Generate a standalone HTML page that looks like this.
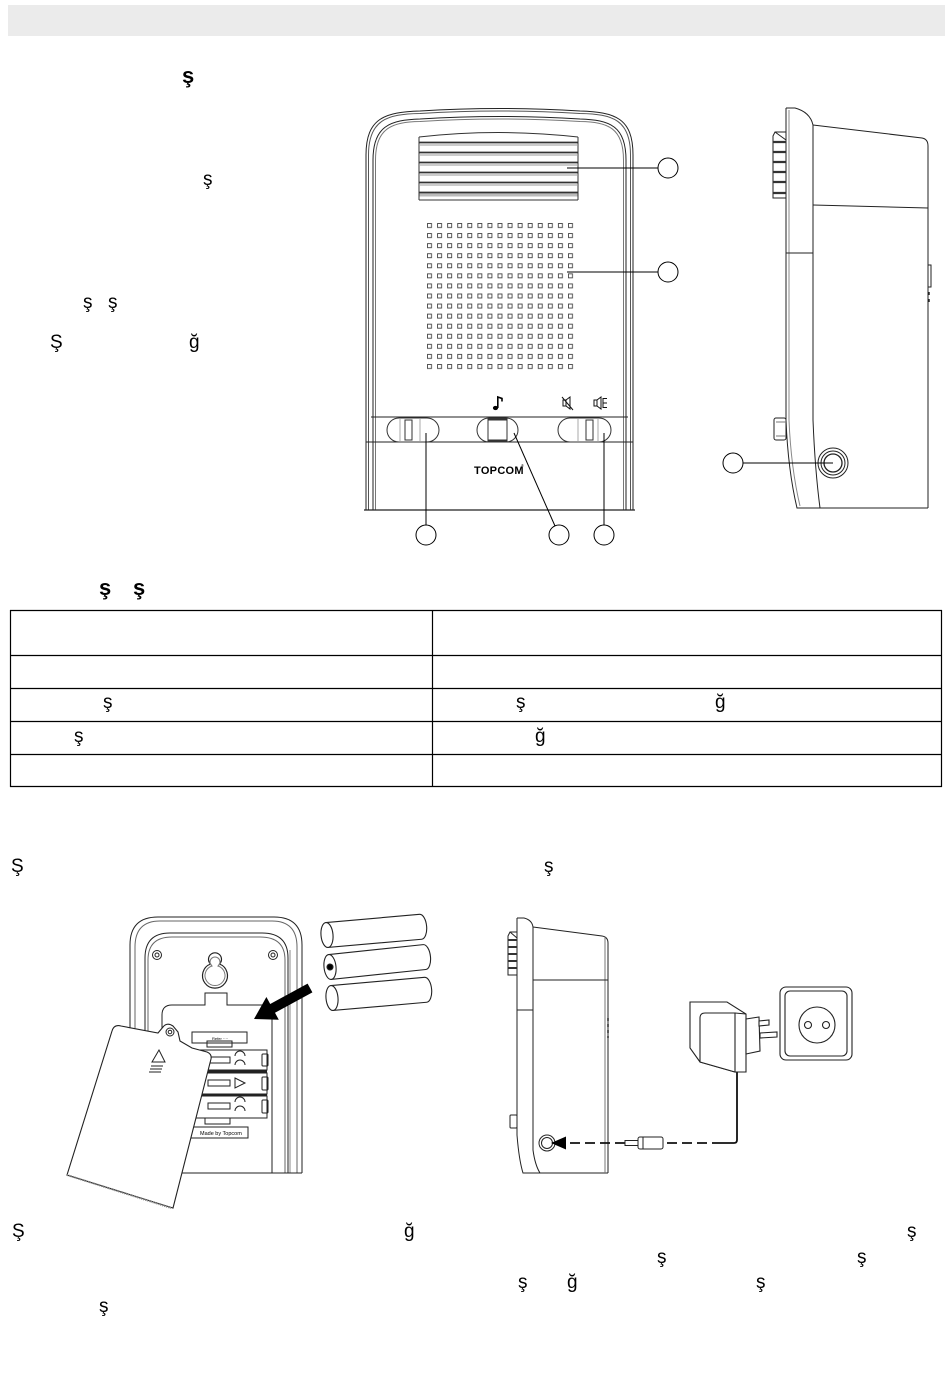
<!DOCTYPE html>
<html>
<head>
<meta charset="utf-8">
<style>
html,body{margin:0;padding:0;background:#fff;}
svg{display:block}
text{font-family:"Liberation Sans",Arial,sans-serif;fill:#000}
.t{font-size:19px}
.b{font-size:22px;font-weight:bold}
</style>
</head>
<body>
<svg width="950" height="1397" viewBox="0 0 950 1397" xmlns="http://www.w3.org/2000/svg">
<defs>
  <pattern id="grid" x="427" y="223" width="10.07" height="10.07" patternUnits="userSpaceOnUse">
    <rect x="0.5" y="0.5" width="4" height="4" fill="none" stroke="#444" stroke-width="0.9"/>
  </pattern>
</defs>

<!-- header bar -->
<rect x="8" y="5" width="937" height="31" fill="#ebebeb"/>

<!-- scattered text -->
<text class="b" x="182" y="83">ş</text>
<text class="t" x="203" y="185">ş</text>
<text class="t" x="83" y="308">ş</text>
<text class="t" x="108" y="308">ş</text>
<text class="t" x="50" y="348">Ş</text>
<text class="t" x="189" y="348">ğ</text>

<!-- ============ FRONT DEVICE ============ -->
<g fill="none" stroke="#222" stroke-width="1">
  <path d="M366,510 L366,155 C366,118 385,112 420,111 Q500,106 580,111 C615,112 633,118 633,155 L633,510"/>
  <path d="M368.5,510 L368.5,155 C368.5,120 387,114 420,113.5 Q500,108.5 580,113.5 C613,114 630.5,120 630.5,155 L630.5,510" stroke="#555"/>
  <path d="M373,510 L373,160 C373,126 390,120 420,119 Q500,114 580,119 C610,120 626,126 626,160 L626,510"/>
  <path d="M375.5,510 L375.5,160 C375.5,128 392,122 420,121.5 Q500,116.5 580,121.5 C608,122 623.5,128 623.5,160 L623.5,510" stroke="#777"/>
  <path d="M364,510 L635,510" stroke-width="1.3"/>
  <path d="M371,417 L628,417"/>
  <path d="M366,442 L633,442"/>
</g>

<!-- top grille -->
<g fill="none" stroke="#333">
  <path d="M419,137 Q498,128 578,137" stroke-width="1"/>
  <path d="M419,137 L419,200 M578,137 L578,200 M419,200 L578,200" stroke-width="1"/>
  <g stroke-width="1.8">
    <path d="M419,142.5 L578,142.5"/>
    <path d="M419,152.5 L578,152.5"/>
    <path d="M419,162.5 L578,162.5"/>
    <path d="M419,172.5 L578,172.5"/>
    <path d="M419,182.5 L578,182.5"/>
    <path d="M419,192.5 L578,192.5"/>
  </g>
  <g stroke="#999" stroke-width="1">
    <path d="M419,145 L578,145"/>
    <path d="M419,155 L578,155"/>
    <path d="M419,165 L578,165"/>
    <path d="M419,175 L578,175"/>
    <path d="M419,185 L578,185"/>
  </g>
</g>
<rect x="419.5" y="193.5" width="158" height="3" fill="#bbb"/>

<!-- speaker grid -->
<rect x="427" y="223" width="151" height="151" fill="url(#grid)"/>

<!-- buttons -->
<g fill="none" stroke="#333" stroke-width="1">
  <rect x="387" y="418" width="52" height="24" rx="12"/>
  <rect x="405" y="420" width="7" height="20"/>
  <path d="M400,419 L400,441 M420,419 L420,441" stroke="#aaa"/>
  <rect x="477" y="418" width="41" height="24" rx="12"/>
  <rect x="488" y="419" width="19" height="22"/>
  <path d="M488,419.5 L507,419.5 M488,440.5 L507,440.5" stroke-width="2"/>
  <rect x="558" y="418" width="53" height="24" rx="12"/>
  <rect x="586" y="420" width="7" height="20"/>
  <path d="M578,419 L578,441 M598,419 L598,441" stroke="#aaa"/>
</g>

<!-- icons -->
<ellipse cx="495.5" cy="408" rx="2.6" ry="2.1" fill="#000"/>
<path d="M497.8,408 L497.8,397 L502,398.5 L502,401.5" stroke="#000" stroke-width="1.6" fill="none"/>
<g fill="none" stroke="#111" stroke-width="1">
  <rect x="563" y="400" width="3" height="6"/>
  <path d="M566,400 L570,397 L570,409 L566,406"/>
  <path d="M562,397 L573,410"/>
  <rect x="594" y="400" width="3" height="6"/>
  <path d="M597,400 L601,397 L601,409 L597,406"/>
  <path d="M603,398.5 L607,398.5 M603,403 L607,403 M603,407.5 L607,407.5 M603,398 L603,408"/>
</g>

<!-- TOPCOM -->
<text x="474" y="474" style="font-size:11px;font-weight:bold;letter-spacing:0.3px">TOPCOM</text>
<text x="521" y="467" style="font-size:4px">®</text>

<!-- callouts front -->
<g fill="none" stroke="#000" stroke-width="1">
  <path d="M567,168 L658,168"/>
  <path d="M567,272 L658,272"/>
  <path d="M426,433 L426,525"/>
  <path d="M514,433 L555,526"/>
  <path d="M604,433 L604,525"/>
</g>
<g fill="#fff" stroke="#000" stroke-width="1">
  <circle cx="668" cy="168" r="10"/>
  <circle cx="668" cy="272" r="10"/>
  <circle cx="426" cy="535" r="10"/>
  <circle cx="559" cy="535" r="10"/>
  <circle cx="604" cy="535" r="10"/>
</g>

<!-- ============ SIDE DEVICE ============ -->
<g fill="none" stroke="#222" stroke-width="1">
  <path d="M786,108 L786,420 Q788,470 797,508 L928,508"/>
  <path d="M789,110 L789,420 Q791,468 800,506" stroke="#888"/>
  <path d="M786,108 L795,108 Q810,112 813,125"/>
  <path d="M813,125 L813,420 Q815,470 820,508"/>
  <path d="M813,125 L922,138 Q928,139 928,146 L928,508"/>
  <path d="M813,205 L928,208"/>
  <path d="M786,253 L813,253"/>
  <path d="M928,265 L931,265 L931,287 L928,287"/>
  <path d="M929,292 L929,295 M929,299 L929,302" stroke-width="1.5"/>
  <!-- grille -->
  <path d="M786,132 L775,132 L773,136 L773,198 L786,198"/>
  <path d="M775,132 L786,140"/>
  <!-- small button -->
  <rect x="774" y="418" width="12" height="22" rx="2"/>
  <path d="M776,422 L786,422 M776,436 L786,436" stroke="#777"/>
  <!-- jack -->
  <circle cx="833" cy="463" r="15"/>
  <circle cx="833" cy="463" r="12"/>
  <circle cx="833" cy="463" r="9" stroke-width="1.3"/>
  <path d="M743,463 L833,463" stroke="#000"/>
</g>
<g stroke="#333" stroke-width="2.2">
  <path d="M773,142 L786,142 M773,152 L786,152 M773,162 L786,162 M773,172 L786,172 M773,182 L786,182 M773,193 L786,193"/>
</g>
<circle cx="733" cy="463" r="10" fill="#fff" stroke="#000" stroke-width="1"/>

<!-- ============ SECTION 2 ============ -->
<text class="b" x="99" y="595">ş</text>
<text class="b" x="133" y="595">ş</text>

<g stroke="#000" stroke-width="1.2" fill="none">
  <path d="M10,610.5 L942,610.5"/>
  <path d="M10,655.5 L942,655.5"/>
  <path d="M10,688.5 L942,688.5"/>
  <path d="M10,721.5 L942,721.5"/>
  <path d="M10,754.5 L942,754.5"/>
  <path d="M10,786.5 L942,786.5"/>
  <path d="M10.5,610 L10.5,787"/>
  <path d="M432.5,610 L432.5,787"/>
  <path d="M941.5,610 L941.5,787"/>
</g>
<text class="t" x="103" y="708">ş</text>
<text class="t" x="516" y="708">ş</text>
<text class="t" x="715" y="708">ğ</text>
<text class="t" x="74" y="742">ş</text>
<text class="t" x="535" y="742">ğ</text>

<text class="t" x="11" y="872">Ş</text>
<text class="t" x="544" y="872">ş</text>

<!-- ============ BATTERY FIGURE ============ -->
<g fill="none" stroke="#222" stroke-width="1">
  <path d="M130,1173 L130,945 Q130,917 158,917 L274,917 Q302,917 302,945 L302,1173"/>
  <path d="M135,1173 L135,947 Q135,921 160,921 L272,921 Q297,921 297,947 L297,1173" stroke="#666"/>
  <path d="M145,1173 L145,958 Q145,933 170,933 L262,933 Q288,933 288,958 L288,1173"/>
  <path d="M148,1173 L148,960 Q148,937 172,937 L260,937 Q285,937 285,960 L285,1173" stroke="#666"/>
  <path d="M290,950 L290,1173" stroke="#888"/>
  <path d="M130,1173 L302,1173"/>
  <!-- screws -->
  <circle cx="157" cy="955" r="4.5"/>
  <circle cx="157" cy="955" r="2"/>
  <circle cx="273" cy="955" r="4.5"/>
  <circle cx="273" cy="955" r="2"/>
  <!-- keyhole -->
  <path d="M210.5,964 A6.5,6.5 0 1 1 219.5,964 A12.5,12.5 0 1 1 210.5,964 Z" stroke-width="1.2"/>
  <path d="M212,966 A5,5 0 1 1 218,966 A10,10 0 1 1 212,966 Z" stroke="#777"/>
  <!-- compartment -->
  <path d="M162,1140 L162,1015 Q162,1005 172,1005 L205,1005 L205,993 L227,993 L227,1005 L262,1005 Q272,1005 272,1015 L272,1173"/>
  <!-- label -->
  <rect x="192" y="1032" width="55" height="11"/>
  <!-- cells -->
  <rect x="193" y="1050" width="74" height="20"/>
  <rect x="193" y="1073" width="74" height="21"/>
  <rect x="193" y="1096" width="74" height="22"/>
  <path d="M193,1071.5 L267,1071.5 M193,1095 L267,1095" stroke-width="2"/>
  <rect x="262" y="1054" width="6" height="12" rx="1"/>
  <rect x="262" y="1077" width="6" height="13" rx="1"/>
  <rect x="262" y="1100" width="6" height="13" rx="1"/>
  <rect x="208" y="1057" width="22" height="6"/>
  <rect x="208" y="1080" width="22" height="6"/>
  <rect x="208" y="1103" width="22" height="6"/>
  <path d="M235,1056 A5,5 0 0 1 245,1056 M235,1065 A5,5 0 0 1 245,1065"/>
  <path d="M235,1078 L245,1083 L235,1088 Z"/>
  <path d="M235,1102 A5,5 0 0 1 245,1102 M235,1111 A5,5 0 0 1 245,1111"/>
  <rect x="205" y="1118" width="25" height="6"/>
  <rect x="190" y="1127" width="58" height="11"/>
  <rect x="207" y="1041" width="25" height="6"/>
</g>
<text x="200" y="1135" style="font-size:5.5px">Made by Topcom</text>
<text x="212" y="1040" style="font-size:4px">Refer ····</text>

<!-- arrow -->
<polygon points="307.6,983.6 270.2,1004 266.4,997 254,1019 278.8,1019.8 275,1012.8 312.4,992.4" fill="#000"/>

<!-- batteries -->
<g fill="#fff" stroke="#222" stroke-width="1.1">
  <g transform="translate(327,935) rotate(-5)">
    <path d="M0,-12.5 L94,-12.5 A6,12.5 0 0 1 94,12.5 L0,12.5 Z"/>
    <ellipse cx="0" cy="0" rx="6" ry="12.5"/>
  </g>
  <g transform="translate(330,967) rotate(-6)">
    <path d="M0,-12.5 L95,-12.5 A6,12.5 0 0 1 95,12.5 L0,12.5 Z"/>
    <ellipse cx="0" cy="0" rx="6" ry="12.5"/>
    <circle cx="0" cy="0" r="3" fill="#000"/>
  </g>
  <g transform="translate(332,998) rotate(-5)">
    <path d="M0,-12.5 L94,-12.5 A6,12.5 0 0 1 94,12.5 L0,12.5 Z"/>
    <ellipse cx="0" cy="0" rx="6" ry="12.5"/>
  </g>
</g>

<!-- cover -->
<path d="M67,1175 L112,1031 Q114,1024 121,1026 L158,1033 L163,1027 Q167,1022 173,1026 L178,1032 L180,1041 L192,1048 L207,1052 Q212,1054 211,1059 L173,1208 Z" fill="#fff" stroke="#222" stroke-width="1.1"/>
<path d="M67,1175 L171,1208" stroke="#888" stroke-width="2" stroke-dasharray="1,1" fill="none"/>
<circle cx="170" cy="1032" r="4" fill="none" stroke="#222"/>
<circle cx="170" cy="1032" r="1.8" fill="none" stroke="#222"/>
<g fill="none" stroke="#222" stroke-width="1">
  <path d="M159,1050 L152,1062 L165,1062 Z"/>
  <path d="M151,1066 L163,1066 M150,1069 L162,1069 M149,1072 L161,1072"/>
</g>

<!-- ============ POWER FIGURE ============ -->
<g fill="none" stroke="#222" stroke-width="1">
  <path d="M517,918 L517,1135 Q519,1160 523,1173 L608,1173"/>
  <path d="M517,918 L524,918 Q532,920 533,927"/>
  <path d="M533,927 L533,1150 Q535,1165 540,1173"/>
  <path d="M533,927 L602,936 Q608,937 608,943 L608,1173"/>
  <path d="M605,937 L605,1173" stroke="#777"/>
  <path d="M533,980 L608,980"/>
  <path d="M517,1010 L533,1010"/>
  <path d="M517,932 L510,932 L508,936 L508,975 L517,975"/>
  <path d="M510,932 L517,938"/>
  <rect x="510" y="1115" width="7" height="13" rx="1"/>
  <path d="M608,1018 L608,1038" stroke-width="1.5" stroke-dasharray="3,3"/>
  <circle cx="547" cy="1143" r="8"/>
  <circle cx="547" cy="1143" r="5.5"/>
</g>
<g stroke="#333" stroke-width="2">
  <path d="M508,940 L517,940 M508,947 L517,947 M508,954 L517,954 M508,961 L517,961 M508,968 L517,968"/>
</g>
<!-- cable -->
<g fill="none" stroke="#111" stroke-width="1.8">
  <path d="M737,1072 L737,1140 Q737,1143 734,1143 L722,1143"/>
  <path d="M722,1143 L663,1143" stroke-dasharray="10,5"/>
  <path d="M625,1143 L563,1143" stroke-dasharray="10,5"/>
</g>
<rect x="638" y="1137" width="25" height="12" rx="2" fill="#fff" stroke="#222"/>
<path d="M643,1137 L643,1149" stroke="#222"/>
<rect x="625" y="1140.5" width="13" height="5" fill="#fff" stroke="#222"/>
<polygon points="551,1143 566,1136.5 566,1149.5" fill="#000"/>

<!-- adapter -->
<g fill="#fff" stroke="#222" stroke-width="1.1">
  <path d="M690,1002 L727,1002 L746,1014 L746,1072 L735,1072 L700,1062 L690,1048 Z"/>
  <path d="M700,1018 Q700,1013 705,1013 L735,1013 L735,1072 L700,1062 Z"/>
  <path d="M735,1013 L746,1014" fill="none"/>
  <path d="M746,1019 L759,1017 L760,1051 L746,1054 Z"/>
  <path d="M759,1021 L769,1020 L769,1025 L759,1026 Z"/>
  <path d="M760,1033 L777,1032 L777,1037 L760,1038 Z"/>
</g>

<!-- socket -->
<g fill="#fff" stroke="#222" stroke-width="1.1">
  <rect x="780" y="987" width="72" height="73" rx="6"/>
  <rect x="785" y="991" width="62" height="65" rx="5"/>
  <circle cx="817" cy="1025" r="18"/>
  <circle cx="808" cy="1025" r="3.5"/>
  <circle cx="826" cy="1025" r="3.5"/>
</g>

<!-- bottom text -->
<text class="t" x="12" y="1237">Ş</text>
<text class="t" x="404" y="1237">ğ</text>
<text class="t" x="907" y="1237">ş</text>
<text class="t" x="657" y="1263">ş</text>
<text class="t" x="857" y="1263">ş</text>
<text class="t" x="518" y="1288">ş</text>
<text class="t" x="567" y="1288">ğ</text>
<text class="t" x="756" y="1288">ş</text>
<text class="t" x="99" y="1312">ş</text>
</svg>
</body>
</html>
